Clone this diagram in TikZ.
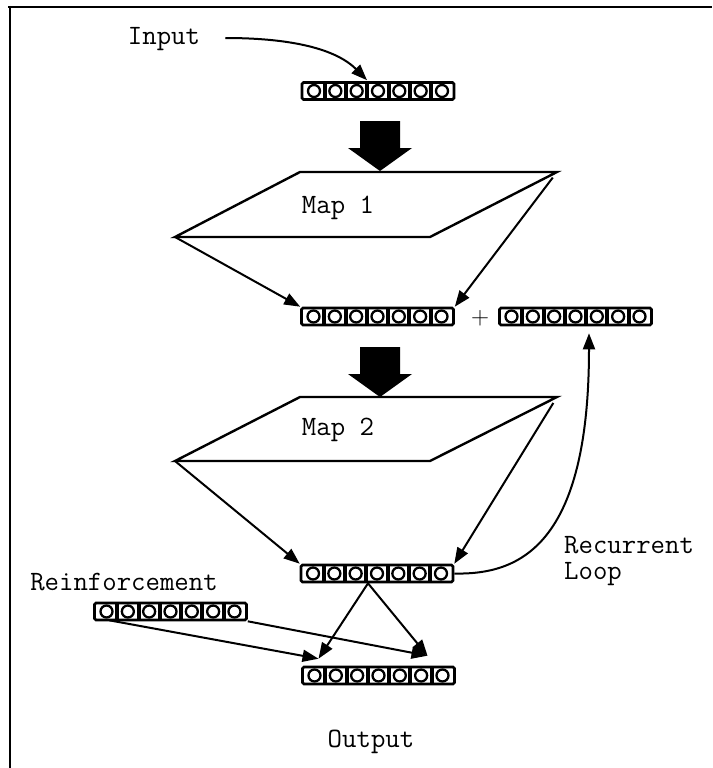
\documentclass[tikz,border=0pt]{standalone}
\usepackage{fontspec}
\usetikzlibrary{arrows.meta,calc}
\begin{document}
\begin{tikzpicture}[x=1pt,y=-1pt,
  lbl/.style={font=\ttfamily\fontsize{28}{28}\selectfont, inner sep=0},
  vec/.style={draw, line width=2.6pt, rounded corners=1.5pt, minimum width=152pt, minimum height=17pt, inner sep=0,
    path picture={
      \foreach \i in {0,...,6}{\draw[line width=2.3pt] ([xshift={12pt+\i*21.33pt}]path picture bounding box.west) circle[radius=6pt];}
      \foreach \i in {0,...,5}{\draw[line width=4pt] ([xshift={22.67pt+\i*21.33pt}]path picture bounding box.north west) -- ([xshift={22.67pt+\i*21.33pt}]path picture bounding box.south west);}
    }},
  mapshape/.style={line width=2.4pt, line join=miter},
  con/.style={line width=2pt, -{Triangle[length=16pt,width=12pt]}},
  bigarrow/.style={fill=black}
]
\useasboundingbox (0,0) rectangle (712,768);
% frame
\draw[line width=2pt] (8,7) -- (712,7);
\draw[line width=2.5pt] (10,6) -- (10,768);

% vectors
\node[vec] (v1) at (378,91) {};
\node[vec] (v2) at (377.5,316.5) {};
\node[vec] (v3) at (575.5,316.5) {};
\node[vec] (v4) at (377,573.5) {};
\node[vec] (v5) at (170.5,611.5) {};
\node[vec] (v6) at (378.5,675.5) {};

% labels
\node[lbl] (input) at (164,39) {Input};
\node[lbl] (map1) at (338,208) {Map 1};
\node[lbl] (map2) at (338,430) {Map 2};
\node[font=\rmfamily\fontsize{25}{25}\selectfont, inner sep=0] (plus) at (480,318) {+};
\node[lbl, align=left, anchor=west] (recur) at (564,561) {Recurrent\\[-2pt]Loop};
\node[lbl] (reinf) at (124,582) {Reinforcement};
\node[lbl] (output) at (371,742) {Output};

% maps
\coordinate (m1a) at (175,237); \coordinate (m1b) at (300,172);
\coordinate (m1c) at (557,172); \coordinate (m1d) at (430,237);
\draw[mapshape] (m1a) -- (m1b) -- (m1c) -- (m1d) -- cycle;
\coordinate (m2a) at (175,461); \coordinate (m2b) at (300,397);
\coordinate (m2c) at (557,397); \coordinate (m2d) at (430,461);
\draw[mapshape] (m2a) -- (m2b) -- (m2c) -- (m2d) -- cycle;

% big arrows
\fill[bigarrow] (360,121) -- (400,121) -- (400,148) -- (412,148) -- (380,171) -- (348,148) -- (360,148) -- cycle;
\fill[bigarrow] (360,347) -- (400,347) -- (400,374) -- (412,374) -- (380,397) -- (348,374) -- (360,374) -- cycle;

% connectors
\draw[con] ([xshift=25pt,yshift=1pt]input.east) .. controls (315,38) and (345,58) .. ([xshift=-11pt,yshift=1pt]v1.north);
\draw[con] (m1a) -- (v2.north west);
\draw[con, shorten <=7pt] (m1c) -- (v2.north east);
\draw[con] (m2a) -- (v4.north west);
\draw[con, shorten <=7pt] (m2c) -- (v4.north east);
\draw[con, shorten >=7pt] (v4.east) .. controls (520,575) and (589,545) .. ([xshift=13.5pt]v3.south);
\draw[con] ([xshift=-9pt]v4.south) -- ([xshift=-60pt,yshift=7pt]v6.north);
\draw[con] ([xshift=-9pt]v4.south) -- ([xshift=49pt,yshift=10pt]v6.north);
\draw[con] ([xshift=16pt,yshift=1pt]v5.south west) -- ([xshift=-60pt,yshift=7pt]v6.north);
\draw[con] (v5.south east) -- ([xshift=49pt,yshift=10pt]v6.north);
\end{tikzpicture}
\end{document}
